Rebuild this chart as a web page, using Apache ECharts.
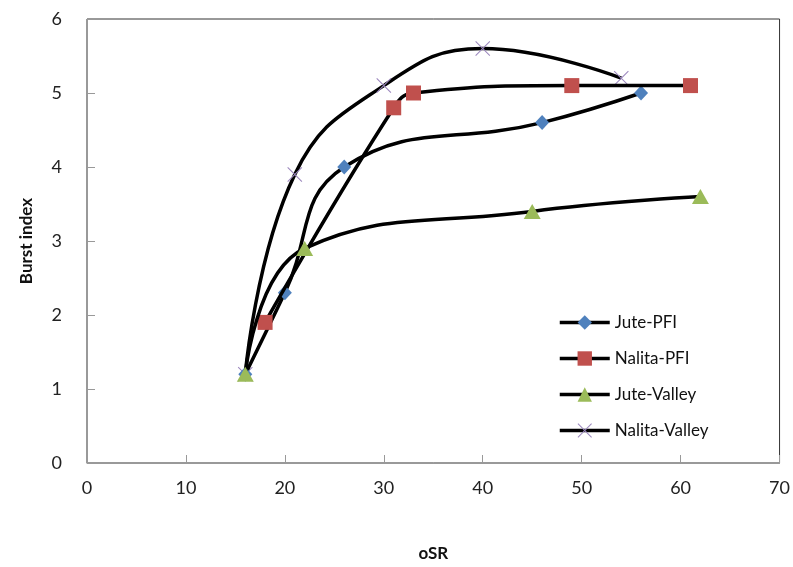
<!DOCTYPE html>
<html><head><meta charset="utf-8">
<script src="https://cdn.jsdelivr.net/npm/echarts@6/dist/echarts.min.js"></script>
<style>html,body{margin:0;padding:0;background:#fff}#c{width:793px;height:567px}</style>
</head><body><div id="c"></div>
<script>
const seriesNames = ['Jute-PFI', 'Nalita-PFI', 'Jute-Valley', 'Nalita-Valley'];
const jutePFI_x = [16, 20, 26, 46, 56];
const jutePFI_y = [1.2, 2.3, 4.0, 4.6, 5.0];
const nalitaPFI_x = [18, 31, 33, 49, 61];
const nalitaPFI_y = [1.9, 4.8, 5.0, 5.1, 5.1];
const juteValley_x = [16, 22, 45, 62];
const juteValley_y = [1.2, 2.9, 3.4, 3.6];
const nalitaValley_x = [16, 21, 30, 40, 54];
const nalitaValley_y = [1.2, 3.9, 5.1, 5.6, 5.2];
const xTicks = [0, 10, 20, 30, 40, 50, 60, 70];
const yTicks = [0, 1, 2, 3, 4, 5, 6];

const pair = (xs, ys) => xs.map((x, i) => [x, ys[i]]);
const colors = ['#4F81BD', '#C0504D', '#9BBB59', '#9C88BE'];
const symbols = ['diamond', 'rect', 'triangle',
  'path://M0,0.5L0.5,0L10,9.5L9.5,10Z M9.5,0L10,0.5L0.5,10L0,9.5Z'];
const sizes = [[14, 15], 15, [17, 15], 15];
const zs = [3, 4, 5, 2];
const datas = [pair(jutePFI_x, jutePFI_y), pair(nalitaPFI_x, nalitaPFI_y),
  pair(juteValley_x, juteValley_y), pair(nalitaValley_x, nalitaValley_y)];

const font = 'Lato, "Liberation Sans", sans-serif';
const chart = echarts.init(document.getElementById('c'), null, {renderer: 'canvas'});
chart.setOption({
  animation: false,
  backgroundColor: '#fff',
  grid: {left: 87, right: 11, top: 19, bottom: 103, show: true, borderColor: '#333', borderWidth: 1},
  xAxis: {
    type: 'value', min: xTicks[0], max: xTicks[xTicks.length - 1], interval: 10,
    name: 'oSR', nameLocation: 'middle', nameGap: 82,
    nameTextStyle: {fontFamily: font, fontSize: 17, fontWeight: 'bold', color: '#111'},
    axisLine: {lineStyle: {color: '#999', width: 1}},
    axisTick: {inside: true, length: 8, lineStyle: {color: '#999'}},
    axisLabel: {fontFamily: font, fontSize: 18, color: '#222', margin: 16},
    splitLine: {show: false}
  },
  yAxis: {
    type: 'value', min: yTicks[0], max: yTicks[yTicks.length - 1], interval: 1,
    name: 'Burst index', nameLocation: 'middle', nameGap: 52,
    nameTextStyle: {fontFamily: font, fontSize: 17, fontWeight: 'bold', color: '#111'},
    axisLine: {show: true, lineStyle: {color: '#999', width: 1}},
    axisTick: {show: true, inside: true, length: 8, lineStyle: {color: '#999'}},
    axisLabel: {fontFamily: font, fontSize: 18, color: '#222', margin: 25},
    splitLine: {show: false}
  },
  legend: {
    orient: 'vertical', left: 553, top: 309, itemGap: 19,
    itemWidth: 50, itemHeight: 18,
    lineStyle: {width: 3.5, color: '#000'},
    textStyle: {fontFamily: font, fontSize: 17, color: '#111'},
    data: seriesNames
  },
  series: seriesNames.map((n, i) => ({
    name: n, type: 'line', data: datas[i], smooth: 0.45,
    symbol: symbols[i], symbolSize: sizes[i], showSymbol: true,
    lineStyle: {color: '#000', width: 3.5},
    itemStyle: {color: colors[i]},
    z: zs[i]
  }))
});
</script></body></html>
